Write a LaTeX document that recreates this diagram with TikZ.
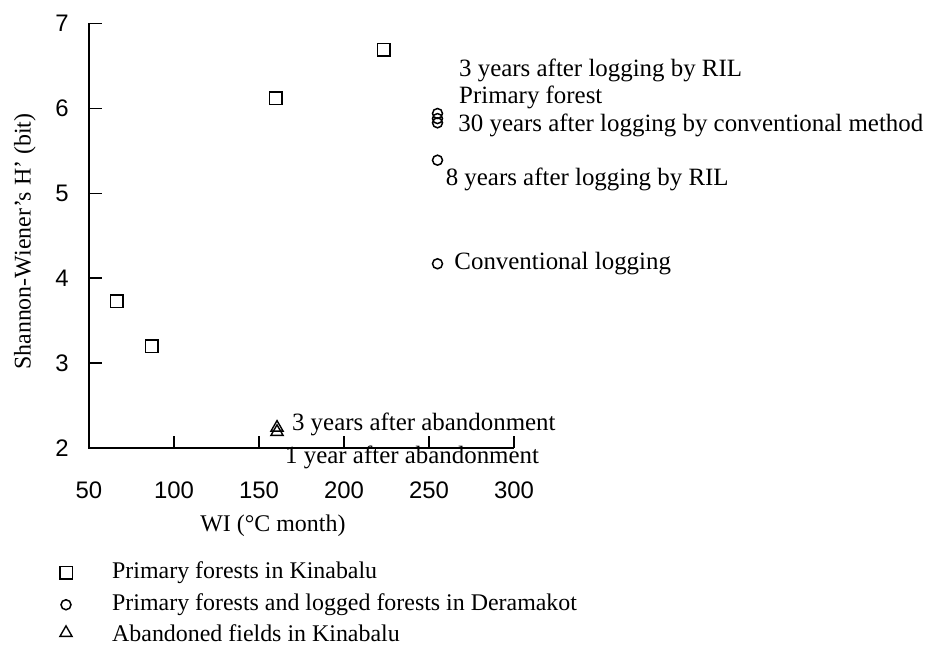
\documentclass[tikz,border=0pt]{standalone}
\usepackage{fontspec}
\setmainfont{Liberation Serif}
\newfontfamily\numfont{Liberation Sans}
\usetikzlibrary{positioning,shapes.geometric}
\tikzset{
  axis/.style={draw=black, line width=1.4bp},
  sqmark/.style={rectangle, draw=black, line width=1.5bp, minimum size=12.5bp, inner sep=0pt},
  cimark/.style={circle, draw=black, line width=1.5bp, minimum size=10bp, inner sep=0pt},
  trmark/.style={regular polygon, regular polygon sides=3, draw=black, line width=1.4bp, minimum size=14bp, inner sep=0pt},
  note/.style={font=\fontsize{25}{25}\selectfont, inner sep=0pt, anchor=west},
  legtext/.style={font=\fontsize{24}{24}\selectfont, inner sep=0pt, anchor=west},
  ticklbl/.style={font=\numfont\fontsize{24}{24}\selectfont, inner sep=0pt}
}

\begin{document}
\begin{tikzpicture}
  \useasboundingbox (0,0) rectangle (945bp,646bp);

  % Plot area in data units
  \begin{scope}[xshift=4bp, yshift=28.2bp, x=1.7bp, y=84.9bp]
    \draw[axis] (50,7) -- (50,2) -- (300,2);
    \foreach \x in {100,150,...,300}
      \draw[axis] (\x,2) -- ++(0pt,12bp);
    \foreach \y in {3,...,7}
      \draw[axis] (50,\y) -- ++(13bp,0pt);
    \foreach \x in {50,100,...,300}
      \node (xt\x) [ticklbl, yshift=-42bp] at (\x,2) {\x};
    \foreach \y in {2,...,7}
      \node (yt\y) [ticklbl, xshift=-27bp] at (50,\y) {\y};
    \node (xlabel) [legtext, anchor=center] at (158.2,1.08) {WI (°C month)};
    \node (ylabel) [legtext, anchor=center, rotate=90] at (12.35,4.43) {Shannon-Wiener's H' (bit)};

    % Kinabalu primary forests
    \node (sqa) [sqmark] at (66.3,3.73) {};
    \node (sqb) [sqmark] at (87,3.20) {};
    \node (sqc) [sqmark] at (159.8,6.12) {};
    \node (sqd) [sqmark] at (223.5,6.69) {};

    % Deramakot
    \node (ril3) [cimark] at (255,5.94) {};
    \node (prim) [cimark] at (255,5.88) {};
    \node (conv30) [cimark] at (255,5.83) {};
    \node (ril8) [cimark] at (255,5.39) {};
    \node (conv) [cimark] at (255,4.17) {};

    % abandoned fields
    \node (aband3) [trmark] at (160.6,2.24) {};
    \node (aband1) [trmark] at (160.6,2.19) {};
  \end{scope}

  \node (lblril3) [note] at (459bp,576bp) {3 years after logging by RIL};
  \node (lblprim) [note, below=4bp of lblril3.south west, anchor=north west] {Primary forest};
  \node (lblconv30) [note, right=15bp of conv30, yshift=-3bp] {30 years after logging by conventional method};
  \node (lblril8) [note, below right=4bp and 4bp of ril8] {8 years after logging by RIL};
  \node (lblconv) [note, right=11bp of conv] {Conventional logging};
  \node (lblab3) [note, right=10bp of aband3, yshift=3bp] {3 years after abandonment};
  \node (lblab1) [note] at (285bp,189bp) {1 year after abandonment};

  % legend
  \node (legsq) [sqmark] at (66bp,73bp) {};
  \node (legci) [cimark, below=19bp of legsq] {};
  \node (legtr) [trmark, below=14bp of legci] {};
  \node (legsqtxt) [legtext] at (112bp,73bp) {Primary forests in Kinabalu};
  \node (legcitxt) [legtext] at (legsqtxt.west |- legci) {Primary forests and logged forests in Deramakot};
  \node (legtrtxt) [legtext] at (legsqtxt.west |- legtr) {Abandoned fields in Kinabalu};
\end{tikzpicture}
\end{document}
